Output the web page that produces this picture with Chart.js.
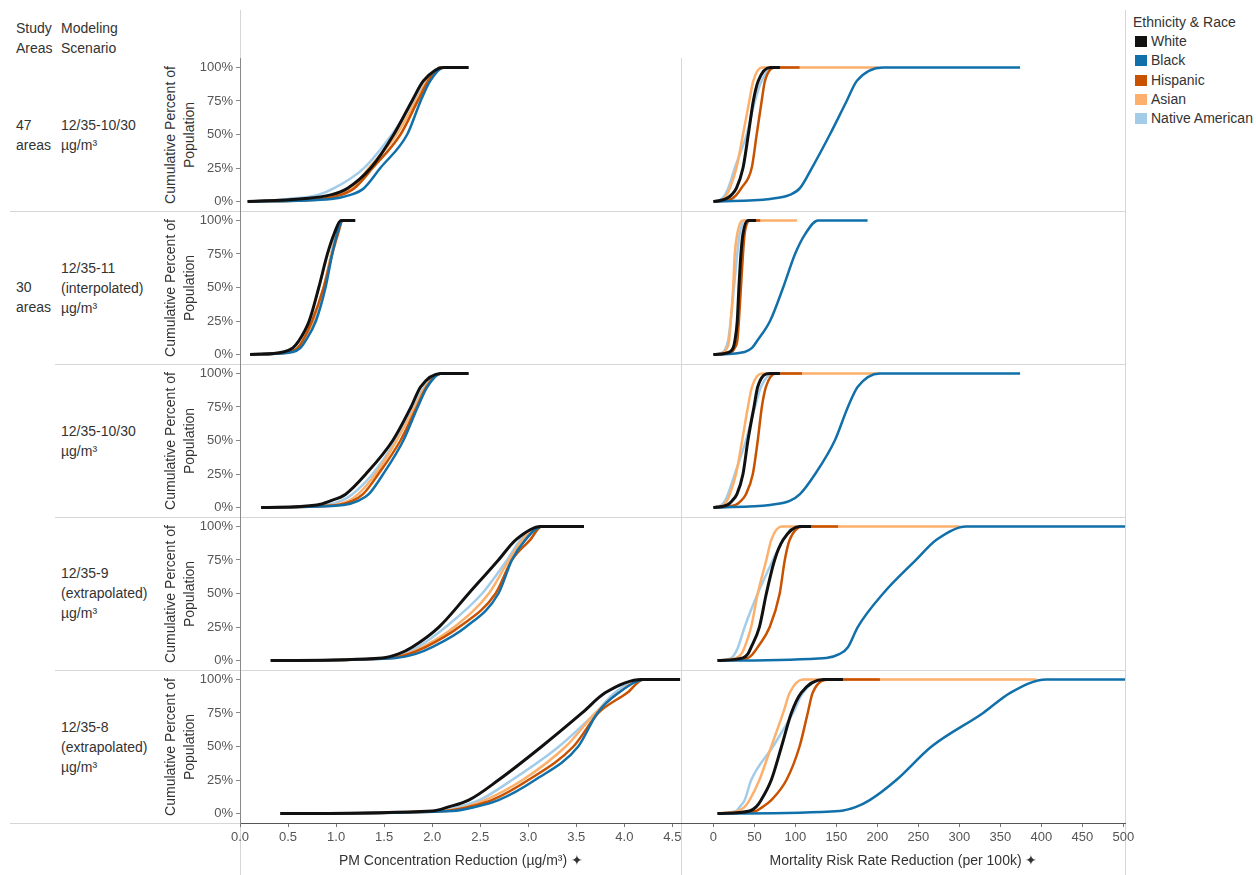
<!DOCTYPE html>
<html>
<head>
<meta charset="utf-8">
<script src="https://cdn.jsdelivr.net/npm/chart.js@4"></script>
<style>
  body { margin: 0; background: #fff; font-family: 'Liberation Sans', Arial, sans-serif; color: #333; }
  #page { position: relative; width: 1256px; height: 875px; overflow: hidden; }
  .txt { position: absolute; font-size: 14px; line-height: 20px; white-space: nowrap; }
  .hl { position: absolute; height: 1px; background: #d6d6d6; }
  .vl { position: absolute; width: 1px; background: #d6d6d6; }
  .ytitle { position: absolute; width: 170px; font-size: 14px; line-height: 19px; text-align: center;
            transform: rotate(-90deg); white-space: nowrap; }
  .key { position: absolute; left: 1135px; width: 12px; height: 11px; }
  canvas { position: absolute; }
</style>
</head>
<body>
<div id="page">
  <!-- frame lines -->
  <div class="vl" style="left:240px; top:10px; height:865px"></div>
  <div class="vl" style="left:681px; top:58px; height:817px"></div>
  <div class="vl" style="left:1125px; top:10px; height:865px"></div>
  <div class="hl" style="left:10px; top:211px; width:1115px"></div>
  <div class="hl" style="left:55px; top:364px; width:1070px"></div>
  <div class="hl" style="left:55px; top:517px; width:1070px"></div>
  <div class="hl" style="left:55px; top:670px; width:1070px"></div>
  <div class="hl" style="left:10px; top:823px; width:230px"></div>

  <!-- row headers -->
  <div class="txt" style="left:16px; top:18px">Study<br>Areas</div>
  <div class="txt" style="left:61px; top:18px">Modeling<br>Scenario</div>
  <div class="txt" style="left:16px; top:115px">47<br>areas</div>
  <div class="txt" style="left:61px; top:115px">12/35-10/30<br>µg/m³</div>
  <div class="txt" style="left:16px; top:277px">30<br>areas</div>
  <div class="txt" style="left:61px; top:258px">12/35-11<br>(interpolated)<br>µg/m³</div>
  <div class="txt" style="left:61px; top:421px">12/35-10/30<br>µg/m³</div>
  <div class="txt" style="left:61px; top:563px">12/35-9<br>(extrapolated)<br>µg/m³</div>
  <div class="txt" style="left:61px; top:717px">12/35-8<br>(extrapolated)<br>µg/m³</div>

  <!-- legend -->
  <div class="txt" style="left:1133px; top:12px">Ethnicity &amp; Race</div>
  <div class="key" style="top:36px; background:#111111"></div>
  <div class="txt" style="left:1151px; top:31px">White</div>
  <div class="key" style="top:55px; background:#1170aa"></div>
  <div class="txt" style="left:1151px; top:50px">Black</div>
  <div class="key" style="top:75px; background:#c85200"></div>
  <div class="txt" style="left:1151px; top:70px">Hispanic</div>
  <div class="key" style="top:94px; background:#fcb06c"></div>
  <div class="txt" style="left:1151px; top:89px">Asian</div>
  <div class="key" style="top:113px; background:#a3cce9"></div>
  <div class="txt" style="left:1151px; top:108px">Native American</div>
</div>

<script>
// Series order: White, Black, Hispanic, Asian, Native American
const races = ['White', 'Black', 'Hispanic', 'Asian', 'Native American'];

// cumulative percent at each x value below (first = start of line, last = end of line)
const pctLevels = [0, 2, 5, 10, 25, 50, 75, 90, 100, 100];

const pmTicks = [0, 0.5, 1, 1.5, 2, 2.5, 3, 3.5, 4, 4.5];
const mrTicks = [0, 50, 100, 150, 200, 250, 300, 350, 400, 450, 500];
const pctTicks = [0, 0.25, 0.5, 0.75, 1];

// 47 areas, 12/35-10/30
const pm47_1030 = [
  [0.08, 0.62, 0.945, 1.12, 1.36, 1.60, 1.79, 1.91, 2.12, 2.38],
  [0.08, 0.95, 1.15, 1.29, 1.46, 1.74, 1.88, 1.98, 2.12, 2.2],
  [0.08, 0.85, 1.05, 1.19, 1.38, 1.67, 1.85, 1.96, 2.09, 2.2],
  [0.08, 0.80, 1.02, 1.16, 1.34, 1.63, 1.83, 1.95, 2.09, 2.2],
  [0.08, 0.50, 0.81, 0.98, 1.29, 1.58, 1.81, 1.95, 2.09, 2.2]
];
const mr47_1030 = [
  [0, 15, 22, 28, 36, 42.5, 48.6, 54.7, 69, 81],
  [0, 69, 93, 105.5, 120, 142, 162.5, 175, 207, 374],
  [0, 22, 28, 34, 46.6, 52.7, 58.8, 62.8, 77, 105],
  [0, 12, 16, 20, 28, 36, 43.7, 48.6, 58.8, 201],
  [0, 10, 14, 18, 26, 40.5, 50.6, 58.8, 73, 90]
];

// 30 areas, 12/35-11 (interpolated)
const pm30_11 = [
  [0.105, 0.45, 0.55, 0.61, 0.72, 0.82, 0.91, 0.98, 1.05, 1.20],
  [0.105, 0.55, 0.63, 0.68, 0.79, 0.89, 0.96, 1.01, 1.07, 1.12],
  [0.105, 0.52, 0.60, 0.65, 0.75, 0.87, 0.96, 1.02, 1.07, 1.12],
  [0.105, 0.52, 0.61, 0.67, 0.76, 0.87, 0.95, 1.00, 1.06, 1.12],
  [0.105, 0.52, 0.61, 0.67, 0.77, 0.88, 0.95, 1.00, 1.06, 1.12]
];
const mr30_11 = [
  [0, 20, 24, 26, 29, 31, 33.5, 36, 42, 52],
  [0, 38, 47, 53, 69, 85, 99.5, 112, 127.5, 188],
  [0, 22, 26, 29, 31, 33.5, 36, 38, 44.5, 57],
  [0, 13, 16.5, 19, 21, 24, 26, 29, 35, 102],
  [0, 12, 15, 17.7, 21, 25, 29, 32, 38, 50]
];

// 30 areas, 12/35-10/30
const pm30_1030 = [
  [0.22, 0.80, 0.94, 1.10, 1.31, 1.59, 1.78, 1.88, 2.09, 2.38],
  [0.22, 1.08, 1.23, 1.34, 1.49, 1.70, 1.85, 1.95, 2.09, 2.2],
  [0.22, 1.02, 1.17, 1.28, 1.44, 1.67, 1.84, 1.94, 2.09, 2.2],
  [0.22, 0.98, 1.13, 1.23, 1.41, 1.63, 1.82, 1.93, 2.09, 2.2],
  [0.22, 0.90, 1.05, 1.17, 1.38, 1.62, 1.80, 1.92, 2.09, 2.2]
];
const mr30_1030 = [
  [0, 17, 22.5, 28.6, 36, 42, 49.4, 54, 69, 81],
  [0, 69, 93, 105.5, 124, 148, 164, 176, 203, 374],
  [0, 27, 33.5, 39.6, 48, 54, 59, 64, 76, 108],
  [0, 12, 16.5, 20, 27.5, 35, 42, 47, 59, 203],
  [0, 10, 14, 17.7, 26, 39.6, 50.6, 58, 72.6, 90]
];

// 30 areas, 12/35-9 (extrapolated)
const pm30_9 = [
  [0.32, 1.48, 1.65, 1.79, 2.07, 2.38, 2.69, 2.87, 3.13, 3.58],
  [0.32, 1.62, 1.83, 2.00, 2.35, 2.69, 2.83, 2.97, 3.14, 3.5],
  [0.32, 1.585, 1.76, 1.93, 2.28, 2.66, 2.83, 3.02, 3.14, 3.5],
  [0.32, 1.57, 1.74, 1.90, 2.23, 2.59, 2.80, 2.94, 3.13, 3.5],
  [0.32, 1.53, 1.69, 1.85, 2.14, 2.52, 2.78, 2.92, 3.13, 3.5]
];
const mr30_9 = [
  [5, 36, 42, 46, 56, 64.5, 74.6, 85, 105, 119],
  [5, 137.6, 154, 164, 176, 207, 247, 272, 308, 502],
  [5, 42, 48, 54, 68.6, 80.8, 87, 93, 109, 152],
  [5, 28, 34, 38, 46, 54, 64.5, 70.5, 83, 300],
  [5, 22, 26, 30, 38, 54, 72.6, 85, 101, 115]
];

// 30 areas, 12/35-8 (extrapolated)
const pm30_8 = [
  [0.42, 2.0, 2.17, 2.38, 2.69, 3.14, 3.56, 3.80, 4.18, 4.58],
  [0.42, 2.21, 2.45, 2.69, 3.07, 3.52, 3.72, 3.94, 4.22, 4.58],
  [0.42, 2.14, 2.38, 2.62, 3.00, 3.47, 3.73, 4.03, 4.20, 4.5],
  [0.42, 2.10, 2.35, 2.55, 2.94, 3.39, 3.70, 3.94, 4.18, 4.5],
  [0.42, 2.07, 2.28, 2.49, 2.83, 3.32, 3.70, 3.90, 4.18, 4.5]
];
const mr30_8 = [
  [5, 44, 52, 58, 70.5, 83, 95, 107, 134, 158],
  [5, 154, 174, 190.6, 223, 266, 329, 362, 406, 502],
  [5, 52, 60, 70.5, 89, 105, 115, 121, 142, 203],
  [5, 30, 38, 44, 56, 70.5, 85, 93, 109, 394],
  [5, 28, 32, 38, 46, 72.6, 97, 109, 134, 150]
];

const pmRows = [pm47_1030, pm30_11, pm30_1030, pm30_9, pm30_8];
const mrRows = [mr47_1030, mr30_11, mr30_1030, mr30_9, mr30_8];

Chart.defaults.font.family = "'Liberation Sans', Arial, sans-serif";
Chart.defaults.font.size = 13;
Chart.defaults.color = '#555';

const raceColors = ['#111111', '#1170aa', '#c85200', '#fcb06c', '#a3cce9'];
const raceWidths = [3, 2.5, 2.5, 2.5, 2.5];
const rowTops = [58, 211, 364, 517, 670];
const page = document.getElementById('page');

function seriesSets(rows) {
  return rows.map((xs, i) => ({
    label: races[i],
    data: xs.map((x, k) => ({ x: x, y: pctLevels[k] / 100 })),
    borderColor: raceColors[i],
    borderWidth: raceWidths[i],
    pointRadius: 0,
    cubicInterpolationMode: 'monotone',
    fill: false,
    order: i
  }));
}

function addCanvas(left, top, w, h) {
  const c = document.createElement('canvas');
  c.width = w; c.height = h;
  c.style.left = left + 'px'; c.style.top = top + 'px';
  page.appendChild(c);
  return c;
}

// the tick labels sit inside the padded value range, so drop the label padding
function noLabelPadding(s) {
  s.paddingTop = 0; s.paddingBottom = 0; s.paddingLeft = 0; s.paddingRight = 0;
}

function makePanel(rows, rowIdx, isLeft) {
  const isBottom = rowIdx === 4;
  const top = rowTops[rowIdx];
  const h = isBottom ? 205 : 153;
  const canvas = isLeft ? addCanvas(150, top, 532, h) : addCanvas(682, top, 463, h);
  const xTicks = isLeft ? pmTicks : mrTicks;

  new Chart(canvas, {
    type: 'line',
    data: { datasets: seriesSets(rows) },
    options: {
      responsive: false,
      animation: false,
      layout: { autoPadding: false, padding: { left: 0, top: 0, bottom: 0, right: isLeft ? 0 : 20 } },
      plugins: { legend: { display: false }, tooltip: { enabled: false } },
      scales: {
        x: {
          type: 'linear',
          min: isLeft ? 0 : -38.4,
          max: isLeft ? 4.6 : 502,
          display: isBottom,
          afterBuildTicks: s => { s.ticks = xTicks.map(v => ({ value: v })); },
          afterFit: s => { if (isBottom) s.height = 52; noLabelPadding(s); },
          grid: { drawOnChartArea: false, tickLength: 4, color: '#777' },
          border: { color: '#555' },
          ticks: {
            autoSkip: false, maxRotation: 0, padding: 3, color: '#555',
            callback: v => isLeft ? v.toFixed(1) : String(v)
          },
          title: {
            display: true,
            text: isLeft ? 'PM Concentration Reduction (µg/m³) ✦' : 'Mortality Risk Rate Reduction (per 100k) ✦',
            color: '#333',
            font: { size: 14 },
            padding: { top: 4, bottom: 5 }
          }
        },
        y: {
          type: 'linear',
          min: -0.07,
          max: 1.07,
          display: isLeft,
          afterBuildTicks: s => { s.ticks = pctTicks.map(v => ({ value: v })); },
          afterFit: s => { if (isLeft) s.width = 90; noLabelPadding(s); },
          grid: { drawOnChartArea: false, tickLength: 4, color: '#888' },
          border: { color: '#888' },
          ticks: { padding: 3, color: '#555', callback: v => Math.round(v * 100) + '%' }
        }
      }
    }
  });
}

rowTops.forEach((top, i) => {
  const t = document.createElement('div');
  t.className = 'ytitle';
  t.style.left = (180 - 85) + 'px';
  t.style.top = (top + 76.5 - 19) + 'px';
  t.innerHTML = 'Cumulative Percent of<br>Population';
  page.appendChild(t);

  makePanel(pmRows[i], i, true);
  makePanel(mrRows[i], i, false);
});
</script>
</body>
</html>
